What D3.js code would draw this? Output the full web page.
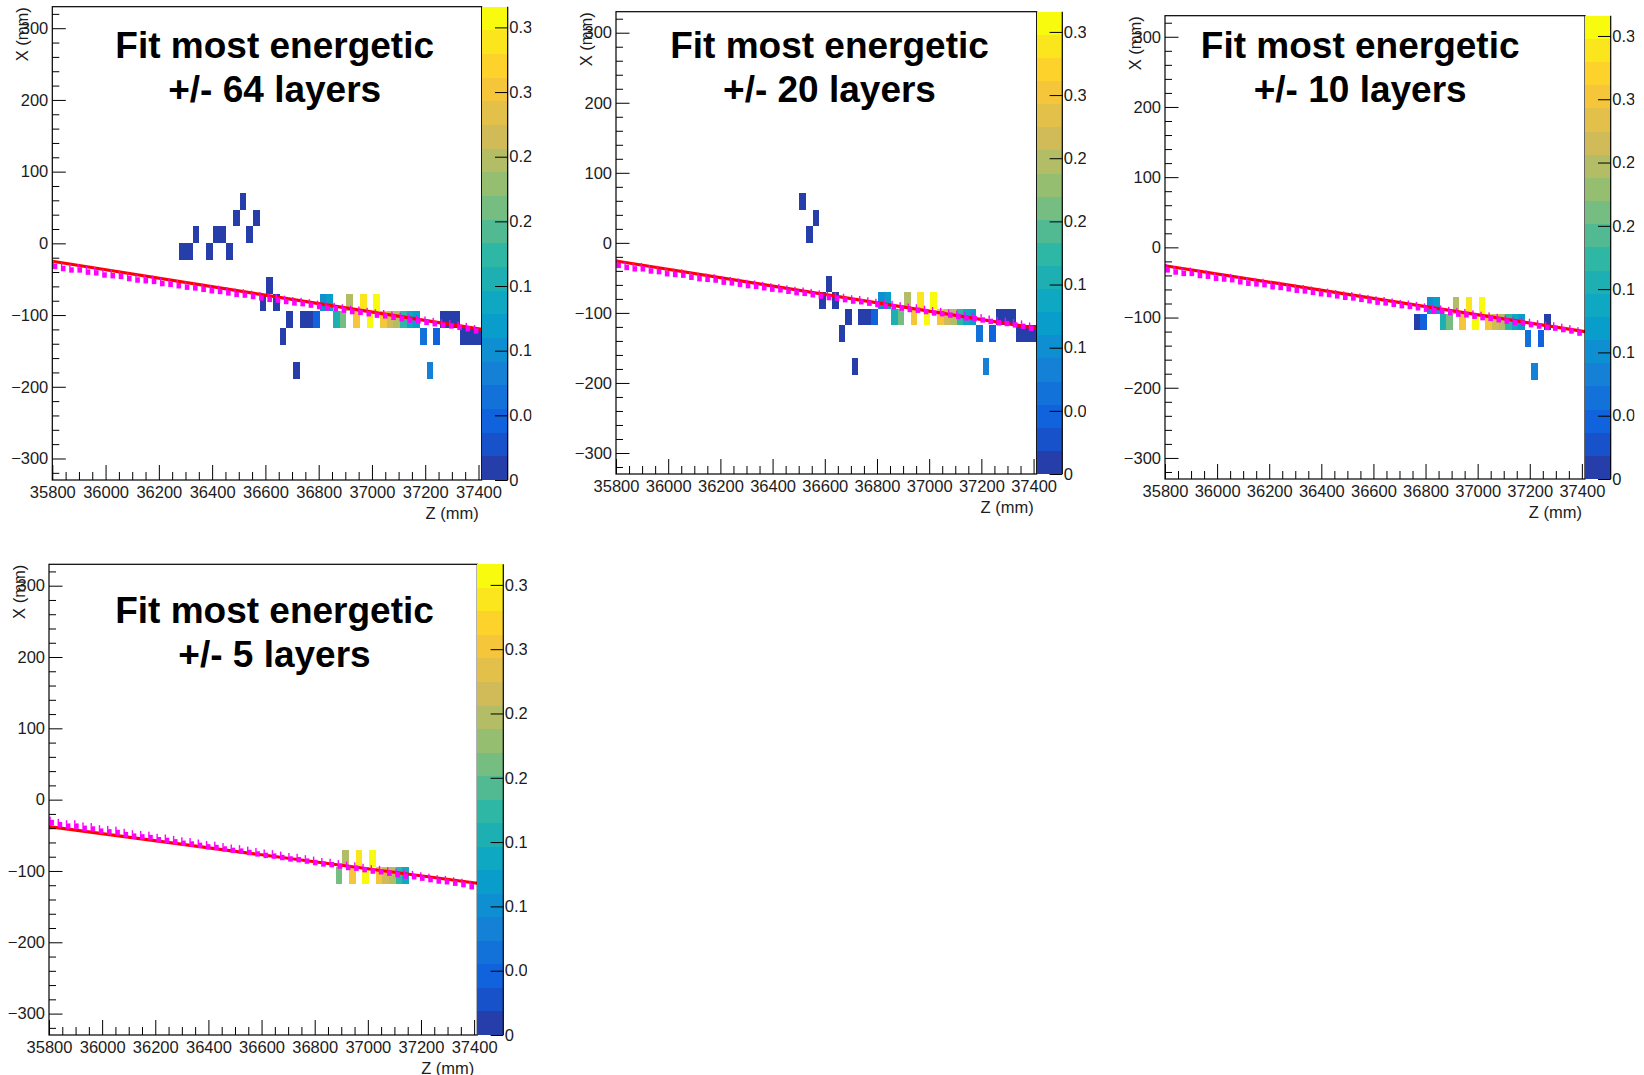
<!DOCTYPE html>
<html>
<head>
<meta charset="utf-8">
<script src="https://cdn.jsdelivr.net/npm/d3@7"></script>
<style>
  body { margin: 0; background: #fff; }
  svg { display: block; }
  text { font-family: "Liberation Sans", Arial, Helvetica, sans-serif; }
</style>
</head>
<body>
<svg id="chart" width="1644" height="1075"></svg>
<script>
// ---- axis ticks ----
const zTicks = [35800, 36000, 36200, 36400, 36600, 36800, 37000, 37200, 37400];
const xTicks = [-300, -200, -100, 0, 100, 200, 300];
const energyTicks = [0, 0.05, 0.1, 0.15, 0.2, 0.25, 0.3, 0.35];
const energyTickLabels = ["0", "0.05", "0.1", "0.15", "0.2", "0.25", "0.3", "0.35"];

// ---- histogram binning ----
const zRange = [35800, 37412];
const xRange = [-330, 330];
const energyMax = 0.366;
const nContours = 20;
const layerZ0 = 35800;      // z of the first layer edge (mm)
const layerPitch = 25.1;    // mm per layer
const stripPitch = 23.57;   // mm per strip in X

// ---- calorimeter hits: layer index, strip index, deposited energy ----
const hitLayer  = [19, 20, 21, 23, 24, 25, 26, 27, 28, 29, 30,
                   31, 32, 33, 34, 35, 36, 37, 38, 39, 40, 41, 42, 43, 44, 45, 46, 47, 48,
                   49, 50, 51, 52, 53, 54, 55, 56, 57, 58, 59, 60, 61, 62, 63, 64];
const hitStrip  = [-1, -1, 0, -1, 0, 0, -1, 1, 2, 0, 1,
                   -4, -3, -4, -6, -5, -8, -5, -5, -5, -4, -4, -5, -5, -4, -5, -4, -5, -4,
                   -5, -5, -5, -5, -5, -5, -6, -8, -6, -5, -5, -5, -6, -6, -6, -6];
const hitEnergy = [0.008, 0.007, 0.006, 0.005, 0.009, 0.008, 0.006, 0.007, 0.005, 0.008, 0.006,
                   0.010, 0.007, 0.009, 0.008, 0.011, 0.006, 0.012, 0.014, 0.046, 0.098, 0.122,
                   0.158, 0.212, 0.248, 0.300, 0.336, 0.358, 0.362,
                   0.310, 0.272, 0.245, 0.180, 0.140, 0.125, 0.064, 0.082, 0.045,
                   0.012, 0.010, 0.009, 0.011, 0.008, 0.007, 0.006];

// ---- fits: layers kept around the most energetic one ----
const peakLayer = 48;
const windowHalfWidth = [64, 20, 10, 5];
const fitXAtZmin = [-25.0, -25.9, -26.2, -37.9];
const fitXAtZmax = [-120.0, -122.0, -120.2, -117.2];

// ---- reference track points (z, x) in mm ----
const refZ = [35810, 35841, 35872, 35903, 35934, 35965, 35996, 36027, 36058, 36089,
              36120, 36151, 36182, 36213, 36244, 36275, 36306, 36337, 36368, 36399,
              36430, 36461, 36492, 36523, 36554, 36585, 36616, 36647, 36678, 36709,
              36740, 36771, 36802, 36833, 36864, 36895, 36926, 36957, 36988, 37019,
              37050, 37081, 37112, 37143, 37174, 37205, 37236, 37267, 37298, 37329,
              37360, 37391];
const refX = [-32, -35, -37, -37, -40, -41, -44, -45, -46, -49,
              -51, -52, -53, -56, -57, -59, -61, -62, -64, -66,
              -67, -69, -71, -72, -74, -76, -78, -79, -81, -83,
              -84, -86, -88, -90, -91, -93, -95, -96, -98, -100,
              -101, -103, -105, -107, -108, -110, -112, -114, -115, -117,
              -119, -122];

const titleLine1 = "Fit most energetic";
const zTitle = "Z (mm)";
const xTitle = "X (mm)";

// ---- page layout of the four pads ----
const layout = [
  { L: 52.3, T: 6.7,   R: 481.7,  B: 480,  cbR: 507.7,  clipR: 531.5, tx: 274.7,  ty: 58.3 },
  { L: 616,  T: 11.7,  R: 1036.7, B: 474,  cbR: 1062.3, clipR: 1086,  tx: 829.5,  ty: 58.3 },
  { L: 1165, T: 15.7,  R: 1585,   B: 479,  cbR: 1610.7, clipR: 1634.5, tx: 1360.2, ty: 58.3 },
  { L: 49,   T: 564.3, R: 477.3,  B: 1035, cbR: 503.3,  clipR: 527,   tx: 274.5,  ty: 623.3 }
];

// ROOT "bird" palette
const birdStops = ["#352a87", "#0f5cdd", "#1481d6", "#06a4ca", "#2eb7a4",
                   "#87bf77", "#d1bb59", "#fec832", "#f9fb0e"];
const bird = d3.scaleLinear().domain(d3.range(9).map(i => i / 8)).range(birdStops)
  .interpolate(d3.interpolateRgb).clamp(true);
const bandIndex = e => Math.max(0, Math.min(nContours - 1, Math.floor(e / energyMax * nContours)));
const bandColor = i => bird((i + 0.99) / nContours);

const svg = d3.select("#chart");
const defs = svg.append("defs");
const labelFont = 16.5;
const ink = "#1c1c1c";

windowHalfWidth.forEach((hw, p) => {
  const g = layout[p];
  const zs = d3.scaleLinear().domain(zRange).range([g.L, g.R]);
  const xs = d3.scaleLinear().domain(xRange).range([g.B, g.T]);
  const es = d3.scaleLinear().domain([0, energyMax]).range([g.B, g.T]);
  const pad = svg.append("g").attr("class", "pad");

  // plot area clip and palette-label clip (label clip is local to the palette axis group)
  defs.append("clipPath").attr("id", "area" + p).append("rect")
    .attr("x", g.L).attr("y", g.T).attr("width", g.R - g.L).attr("height", g.B - g.T);
  defs.append("clipPath").attr("id", "pal" + p).append("rect")
    .attr("x", g.R - g.cbR).attr("y", g.T - 20).attr("width", g.clipR - g.R).attr("height", g.B - g.T + 40);

  const plot = pad.append("g").attr("clip-path", `url(#area${p})`);

  // COLZ cells
  const kept = d3.range(hitLayer.length).filter(i => Math.abs(hitLayer[i] - peakLayer) <= hw);
  const z0 = i => layerZ0 + hitLayer[i] * layerPitch;
  plot.selectAll("rect.cell").data(kept).join("rect")
    .attr("class", "cell")
    .attr("shape-rendering", "crispEdges")
    .attr("x", i => zs(z0(i)))
    .attr("width", i => zs(z0(i) + layerPitch) - zs(z0(i)))
    .attr("y", i => xs((hitStrip[i] + 1) * stripPitch))
    .attr("height", i => xs(hitStrip[i] * stripPitch) - xs((hitStrip[i] + 1) * stripPitch))
    .attr("fill", i => bandColor(bandIndex(hitEnergy[i])));

  // straight-line fit
  const fitLine = d3.line().x(d => zs(d[0])).y(d => xs(d[1]));
  plot.append("path")
    .datum([[zRange[0], fitXAtZmin[p]], [zRange[1], fitXAtZmax[p]]])
    .attr("d", fitLine)
    .attr("fill", "none").attr("stroke", "#ff0000").attr("stroke-width", 3.2);

  // reference track points: square marker with a short error tick
  const pts = plot.append("g").selectAll("g").data(d3.range(refZ.length)).join("g")
    .attr("transform", i => `translate(${zs(refZ[i])},${xs(refX[i])})`);
  pts.append("rect").attr("x", -2.3).attr("y", -2.6).attr("width", 4.6).attr("height", 5.4)
    .attr("fill", "#ff00ff");
  pts.append("rect").attr("x", -2.3).attr("y", -5.8).attr("width", 1.4).attr("height", 3.4)
    .attr("fill", "#ff00ff");

  // frame
  pad.append("rect").attr("x", g.L).attr("y", g.T).attr("width", g.R - g.L).attr("height", g.B - g.T)
    .attr("fill", "none").attr("stroke", "#000").attr("stroke-width", 1.2);

  // Z axis
  const zMinor = d3.range(35850, zRange[1], 50).filter(v => !zTicks.includes(v));
  pad.append("g").attr("transform", `translate(0,${g.B})`)
    .call(d3.axisBottom(zs).tickValues(zMinor).tickSize(-8).tickFormat(""))
    .call(a => a.select(".domain").remove());
  const zAx = pad.append("g").attr("transform", `translate(0,${g.B})`)
    .call(d3.axisBottom(zs).tickValues(zTicks).tickSize(-15).tickPadding(6.5).tickFormat(d3.format("d")))
    .call(a => a.select(".domain").remove());
  zAx.attr("font-family", null);
  zAx.selectAll("text").attr("font-size", labelFont).attr("fill", ink);

  // X axis
  const xMinor = d3.range(-320, 321, 20).filter(v => !xTicks.includes(v));
  pad.append("g").attr("transform", `translate(${g.L},0)`)
    .call(d3.axisLeft(xs).tickValues(xMinor).tickSize(-7).tickFormat(""))
    .call(a => a.select(".domain").remove());
  const xAx = pad.append("g").attr("transform", `translate(${g.L},0)`)
    .call(d3.axisLeft(xs).tickValues(xTicks).tickSize(-13.5).tickPadding(4))
    .call(a => a.select(".domain").remove());
  xAx.attr("font-family", null);
  xAx.selectAll("text").attr("font-size", labelFont).attr("fill", ink);

  // palette
  const bands = d3.range(nContours);
  pad.append("g").selectAll("rect").data(bands).join("rect")
    .attr("shape-rendering", "crispEdges")
    .attr("x", g.R).attr("width", g.cbR - g.R)
    .attr("y", i => es((i + 1) * energyMax / nContours))
    .attr("height", i => es(i * energyMax / nContours) - es((i + 1) * energyMax / nContours))
    .attr("fill", i => bandColor(i));
  pad.append("line").attr("x1", g.cbR).attr("x2", g.cbR).attr("y1", g.T).attr("y2", g.B)
    .attr("stroke", "#000").attr("stroke-width", 1.2);
  const eAx = pad.append("g").attr("transform", `translate(${g.cbR},0)`)
    .attr("clip-path", `url(#pal${p})`)
    .call(d3.axisRight(es).tickValues(energyTicks).tickSize(-12.7).tickPadding(1.5)
      .tickFormat((d, i) => energyTickLabels[i]))
    .call(a => a.select(".domain").remove());
  eAx.attr("font-family", null);
  eAx.selectAll("text").attr("font-size", labelFont).attr("fill", ink);

  // axis titles
  pad.append("text").attr("x", g.R - 3).attr("y", g.B + 38.5)
    .attr("text-anchor", "end").attr("font-size", labelFont).attr("fill", ink).text(zTitle);
  pad.append("text")
    .attr("transform", `translate(${g.L - 24.5},${g.T + 0.5}) rotate(-90)`)
    .attr("text-anchor", "end").attr("font-size", labelFont).attr("fill", ink).text(xTitle);

  // pad title
  const title = pad.append("text").attr("text-anchor", "middle")
    .attr("font-weight", "bold").attr("font-size", 37).attr("fill", "#000");
  title.append("tspan").attr("x", g.tx).attr("y", g.ty).text(titleLine1);
  title.append("tspan").attr("x", g.tx).attr("y", g.ty + 43.4).text(`+/- ${hw} layers`);
});
</script>
</body>
</html>
